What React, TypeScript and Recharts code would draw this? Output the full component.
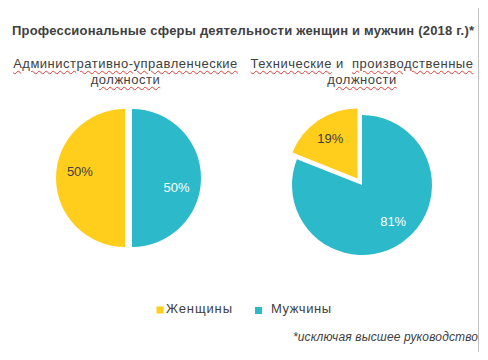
import React from 'react';
import { Cell, Pie, PieChart } from 'recharts';

const CATEGORIES = ['Женщины', 'Мужчины'];
const ADMIN_VALUES = [50, 50];
const TECH_VALUES = [19, 81];
const COLORS = ['#FFCD1C', '#2CB9C9'];
const LABEL_COLORS = ['#404040', '#FFFFFF'];

const TITLE = 'Профессиональные сферы деятельности женщин и мужчин (2018 г.)*';
const ADMIN_TITLE = ['Административно-управленческие', 'должности'];
const TECH_TITLE = ['Технические и  производственные', 'должности'];
const FOOTNOTE = '*исключая высшее руководство';

const TEXT = '#404040';
const FONT = '"Liberation Sans", Arial, sans-serif';
const RADIAN = Math.PI / 180;

interface PieLayout {
  cx: number;
  cy: number;
  r: number;
  explode: number[]; // px each slice is pulled out
  labelDist: number[]; // fraction of radius
  labelTurn: number[]; // degrees added to mid angle
}

const ADMIN_LAYOUT: PieLayout = {
  cx: 128.5,
  cy: 178,
  r: 69,
  explode: [3.5, 3.5],
  labelDist: [0.66, 0.66],
  labelTurn: [-8, -12],
};

const TECH_LAYOUT: PieLayout = {
  cx: 362,
  cy: 185,
  r: 70,
  explode: [8, 0],
  labelDist: [0.69, 0.69],
  labelTurn: [0, 6],
};

// mid angle of each slice, going counter-clockwise from 12 o'clock
function midAngles(values: number[]) {
  const total = values.reduce((a, b) => a + b, 0);
  let acc = 0;
  return values.map((v) => {
    const mid = 90 + ((acc + v / 2) / total) * 360;
    acc += v;
    return mid;
  });
}

function renderSlices(id: string, values: number[], layout: PieLayout) {
  const data = values.map((value, i) => ({ name: CATEGORIES[i], value }));
  const mids = midAngles(values);

  return values.map((_, slice) => {
    const d = layout.explode[slice];
    const cx = layout.cx + d * Math.cos(mids[slice] * RADIAN);
    const cy = layout.cy - d * Math.sin(mids[slice] * RADIAN);

    const label = (props: any) => {
      if (props.index !== slice) return null;
      const a = (props.midAngle + layout.labelTurn[slice]) * RADIAN;
      const rr = props.outerRadius * layout.labelDist[slice];
      const x = props.cx + rr * Math.cos(a);
      const y = props.cy - rr * Math.sin(a);
      return (
        <text
          x={x}
          y={y}
          fill={LABEL_COLORS[slice]}
          textAnchor="middle"
          dominantBaseline="central"
          fontSize={13}
          fontFamily={FONT}
        >
          {`${props.value}%`}
        </text>
      );
    };

    return (
      <Pie
        key={`${id}-${slice}`}
        data={data}
        dataKey="value"
        nameKey="name"
        cx={cx}
        cy={cy}
        outerRadius={layout.r}
        startAngle={90}
        endAngle={450}
        stroke="none"
        label={label}
        labelLine={false}
        isAnimationActive={false}
      >
        {data.map((entry, i) => (
          <Cell key={entry.name} fill={i === slice ? COLORS[i] : 'transparent'} />
        ))}
      </Pie>
    );
  });
}

const wavy: React.CSSProperties = {
  textDecorationLine: 'underline',
  textDecorationStyle: 'wavy',
  textDecorationColor: '#E0403A',
  textDecorationThickness: '1px',
  textUnderlineOffset: '2px',
};

function Subtitle({ lines, center }: { lines: string[]; center: number }) {
  return (
    <div
      style={{
        position: 'absolute',
        left: center - 130,
        top: 56,
        width: 260,
        textAlign: 'center',
        fontFamily: FONT,
        fontSize: 13,
        lineHeight: '16px',
        letterSpacing: '0.5px',
        color: TEXT,
        whiteSpace: 'pre',
      }}
    >
      {lines.map((line) => (
        <div key={line}>
          {line.split(/(\s+)/).map((w, i) =>
            w.trim() === '' || w.length < 2 ? (
              <span key={i}>{w}</span>
            ) : (
              <span key={i} style={wavy}>
                {w}
              </span>
            ),
          )}
        </div>
      ))}
    </div>
  );
}

export default function App() {
  return (
    <div style={{ position: 'relative', width: 488, height: 360, margin: -8, background: '#fff' }}>
      <svg width={488} height={360} style={{ position: 'absolute', left: 0, top: 0 }}>
        <rect x={7.5} y={5.5} width={471} height={347} fill="#fff" stroke="#C0C0C0" />
        <rect x={0.5} y={-0.5} width={5} height={4} fill="#fff" stroke="#4A7FD0" />
        <rect x={474.5} y={354.5} width={4} height={5} fill="#fff" stroke="#9A9A9A" />
        <text
          x={12}
          y={35}
          fontFamily={FONT}
          fontSize={13}
          fontWeight="bold"
          fill={TEXT}
          textLength={462}
          lengthAdjust="spacing"
        >
          {TITLE}
        </text>
        <rect x={156.5} y={306.5} width={7} height={7} fill={COLORS[0]} />
        <text x={166} y={313} fontFamily={FONT} fontSize={13} fill={TEXT} textLength={66}>
          {CATEGORIES[0]}
        </text>
        <rect x={255} y={307} width={7} height={7} fill={COLORS[1]} />
        <text x={271} y={313} fontFamily={FONT} fontSize={13} fill={TEXT} textLength={60}>
          {CATEGORIES[1]}
        </text>
        <text
          x={293}
          y={341}
          fontFamily={FONT}
          fontSize={12}
          fontStyle="italic"
          fill={TEXT}
          textLength={185}
        >
          {FOOTNOTE}
        </text>
      </svg>

      <Subtitle lines={ADMIN_TITLE} center={125.5} />
      <Subtitle lines={TECH_TITLE} center={362} />

      <div style={{ position: 'absolute', left: 0, top: 0 }}>
        <PieChart width={488} height={360} margin={{ top: 0, right: 0, bottom: 0, left: 0 }}>
          {renderSlices('admin', ADMIN_VALUES, ADMIN_LAYOUT)}
          {renderSlices('tech', TECH_VALUES, TECH_LAYOUT)}
        </PieChart>
      </div>
    </div>
  );
}
